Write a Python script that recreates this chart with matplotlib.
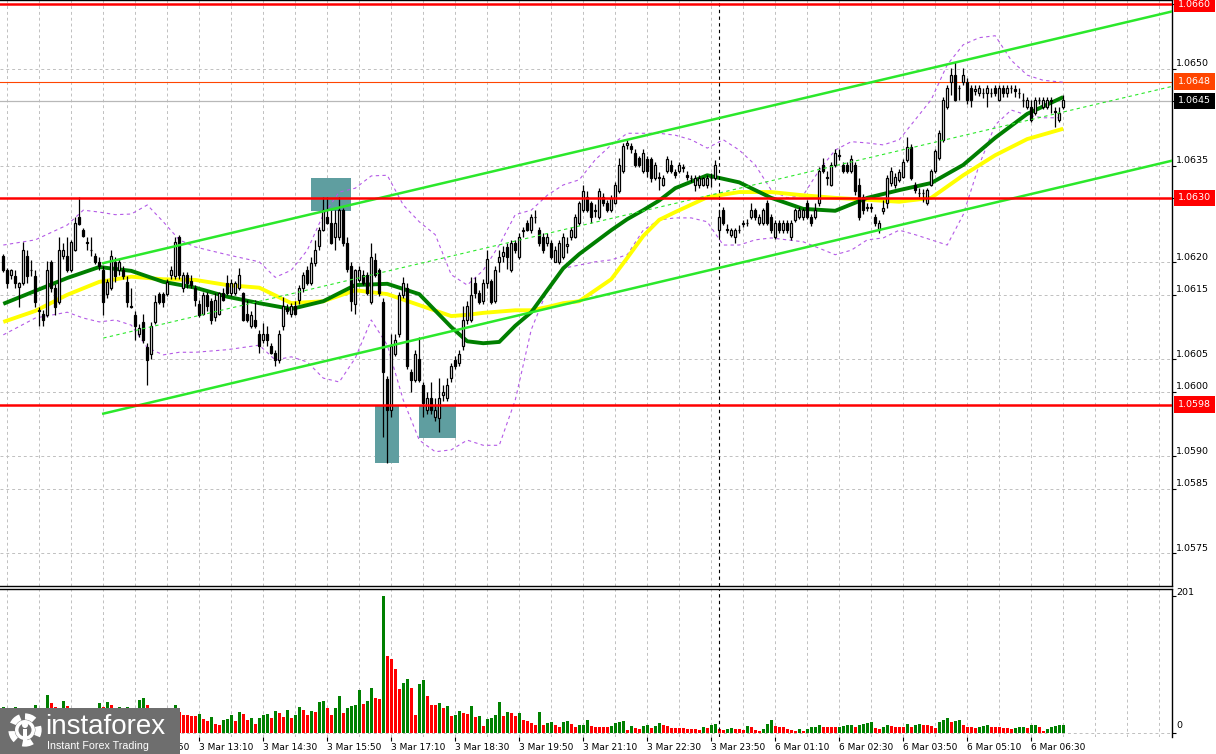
import numpy as np
import matplotlib
matplotlib.use('Agg')
import matplotlib.pyplot as plt
import matplotlib.transforms as mtransforms
from matplotlib.patches import Rectangle, Circle

# prices are stored in pips above 1.0600
BASE = 1.0600
PIP = 0.0001

opens = [21.0, 18.8, 18.0, 17.9, 16.2, 16.8, 21.0, 18.9, 17.9, 12.5,
         12.1, 11.9, 20.0, 16.0, 13.9, 21.0, 21.0, 18.9, 22.0, 27.1,
         25.0, 23.1, 22.0, 21.0, 20.0, 18.9, 15.1, 16.0, 20.0, 18.8,
         18.9, 17.0, 13.2, 11.9, 9.0, 10.8, 6.9, 5.9, 10.8, 15.1,
         15.1, 15.1, 18.0, 17.9, 24.0, 16.0, 18.1, 17.2, 16.0, 13.5,
         12.0, 15.0, 14.0, 11.5, 12.1, 15.2, 16.8, 15.2, 15.3, 16.0,
         15.2, 12.1, 10.1, 11.1, 9.0, 8.0, 9.0, 7.0, 6.0, 4.9,
         10.1, 13.0, 12.1, 13.2, 14.2, 16.0, 18.9, 16.8, 19.9, 22.5,
         25.0, 27.1, 26.1, 24.0, 24.0, 28.1, 23.0, 19.5, 13.5, 17.3,
         18.1, 18.1, 13.9, 20.4, 18.9, 13.9, 1.9, -2.8, 5.9, 9.0,
         15.0, 16.0, 3.1, 1.8, 5.0, 1.0, -2.8, -1.0, -3.9, -4.1,
         -0.5, -1.0, 2.1, 4.9, 4.5, 7.0, 11.1, 11.1, 16.8, 15.2,
         14.0, 16.8, 17.1, 14.0, 20.1, 21.0, 22.4, 18.8, 23.0, 20.9,
         24.8, 26.1, 25.0, 27.0, 25.0, 24.0, 23.0, 23.0, 20.1, 20.1,
         20.9, 22.5, 24.0, 24.0, 26.1, 28.1, 30.2, 29.2, 28.0, 27.1,
         30.2, 29.2, 28.1, 29.2, 31.0, 34.1, 38.2, 38.0, 37.0, 36.1,
         34.1, 36.0, 36.0, 33.0, 33.2, 32.0, 34.1, 35.1, 34.0, 34.1,
         34.6, 33.5, 33.0, 32.0, 32.0, 32.0, 32.0, 33.0, 33.0, 25.0,
         28.1, 25.2, 24.3, 24.0, 25.0, 26.0, 26.1, 27.1, 28.1, 26.1,
         26.1, 29.2, 27.1, 24.0, 26.1, 25.0, 26.1, 24.0, 26.5, 27.1,
         27.1, 29.2, 27.1, 27.1, 29.2, 35.1, 33.2, 32.0, 35.1, 36.5,
         35.1, 35.1, 34.1, 35.1, 32.0, 30.2, 28.5, 28.6, 27.1, 25.0,
         28.0, 29.2, 32.3, 32.0, 32.8, 33.3, 35.9, 37.9, 32.0, 30.8,
         30.7, 29.2, 32.0, 34.1, 36.1, 39.0, 44.1, 48.0, 49.0, 47.0,
         48.0, 48.0, 47.0, 46.5, 46.2, 46.2, 46.2, 46.2, 47.0, 45.2,
         47.0, 46.2, 47.0, 46.8, 46.2, 45.2, 44.1, 44.1, 43.1, 45.2,
         44.1, 44.1, 45.2, 43.5, 42.1, 44.1]

highs = [21.3, 19.2, 19.0, 18.9, 17.0, 23.2, 22.0, 20.4, 18.8, 13.1,
         12.6, 20.3, 20.4, 16.6, 24.0, 23.0, 24.0, 23.5, 27.1, 30.2,
         25.3, 24.0, 24.0, 21.5, 20.9, 19.4, 17.5, 22.0, 20.9, 20.5,
         19.5, 17.9, 16.0, 12.5, 10.5, 12.1, 7.5, 10.8, 15.0, 15.5,
         15.5, 17.5, 19.5, 24.0, 24.3, 18.5, 18.5, 18.0, 16.5, 14.2,
         15.5, 15.5, 14.5, 15.2, 15.5, 16.0, 18.1, 17.5, 17.2, 19.1,
         15.5, 14.2, 12.5, 14.2, 9.5, 10.6, 10.1, 7.5, 6.5, 9.5,
         14.7, 13.5, 13.8, 14.0, 16.5, 18.5, 19.5, 20.9, 23.5, 25.5,
         30.2, 30.2, 28.1, 28.1, 30.2, 28.5, 24.0, 20.0, 19.0, 19.5,
         18.9, 18.5, 23.0, 21.4, 19.2, 14.5, 2.5, 9.0, 9.0, 15.5,
         17.8, 16.8, 3.5, 6.5, 8.5, 1.5, 0.0, 1.5, -1.0, 2.1,
         1.0, 2.1, 4.5, 5.5, 6.5, 13.2, 14.0, 17.8, 17.8, 15.8,
         17.5, 21.9, 17.5, 19.5, 22.0, 22.5, 23.0, 23.5, 23.5, 24.5,
         25.5, 26.5, 27.5, 28.1, 25.5, 24.5, 24.5, 23.5, 22.5, 23.5,
         24.5, 24.0, 25.5, 27.5, 29.5, 32.0, 31.0, 29.5, 29.0, 31.5,
         30.8, 29.6, 30.5, 32.5, 36.1, 38.5, 39.0, 38.5, 37.5, 36.5,
         37.5, 36.5, 36.4, 35.5, 34.0, 33.5, 36.5, 35.8, 34.5, 35.5,
         35.2, 34.2, 33.5, 33.5, 33.5, 33.3, 33.5, 33.8, 35.8, 28.1,
         28.6, 26.0, 25.3, 25.3, 25.8, 26.6, 26.8, 29.2, 28.5, 27.5,
         28.5, 29.6, 27.5, 26.5, 26.5, 26.5, 26.5, 26.5, 28.5, 28.6,
         28.5, 29.6, 27.5, 29.2, 34.8, 36.1, 34.1, 35.5, 37.5, 37.5,
         35.6, 35.5, 36.6, 35.5, 33.0, 30.6, 29.2, 29.2, 27.5, 26.5,
         29.7, 33.5, 34.8, 33.8, 34.5, 36.0, 39.5, 38.3, 32.5, 31.5,
         31.3, 31.6, 34.5, 37.6, 40.5, 45.6, 47.5, 50.1, 51.1, 47.5,
         50.1, 48.5, 47.5, 47.5, 47.5, 47.0, 47.5, 47.0, 47.5, 47.5,
         47.5, 47.5, 47.5, 47.4, 47.0, 46.2, 45.6, 45.2, 45.6, 45.6,
         45.6, 45.6, 45.6, 44.0, 44.0, 46.0]

lows = [18.5, 16.0, 17.5, 16.0, 13.1, 16.5, 16.8, 17.9, 13.1, 10.1,
        10.1, 11.5, 15.5, 11.9, 13.5, 20.5, 18.5, 18.5, 21.8, 25.8,
        24.0, 22.0, 21.0, 19.8, 18.8, 11.9, 14.5, 15.8, 17.0, 18.0,
        17.5, 13.1, 13.0, 8.0, 8.5, 7.5, 1.0, 5.0, 10.5, 13.5,
        13.1, 14.8, 17.5, 17.5, 17.5, 15.5, 16.0, 16.0, 13.2, 11.5,
        11.8, 12.5, 10.5, 11.0, 11.8, 14.0, 15.0, 14.8, 15.0, 15.8,
        11.0, 10.8, 9.8, 9.8, 6.0, 7.5, 7.0, 5.8, 3.9, 4.5,
        9.5, 12.0, 11.5, 11.8, 13.5, 15.5, 16.5, 16.5, 19.5, 22.0,
        24.8, 26.0, 22.8, 21.9, 23.5, 22.5, 18.5, 12.5, 12.1, 17.0,
        16.5, 15.0, 13.5, 17.8, 14.8, -7.0, -11.1, -3.9, 5.5, 8.5,
        14.5, 3.5, 0.0, 1.5, 1.5, -3.9, -3.5, -3.5, -4.5, -6.2,
        -1.5, -1.5, 1.5, 3.5, 4.0, 6.5, 10.5, 10.8, 14.5, 13.5,
        13.5, 16.0, 13.5, 13.8, 18.5, 20.0, 19.0, 18.5, 21.5, 20.5,
        24.0, 24.8, 24.5, 26.1, 22.5, 21.5, 22.5, 20.5, 20.0, 19.8,
        20.5, 21.5, 23.5, 23.8, 25.8, 27.8, 27.8, 26.1, 27.0, 26.8,
        28.8, 27.8, 27.8, 29.0, 30.8, 33.8, 37.5, 37.0, 34.8, 34.8,
        33.8, 33.3, 32.5, 32.8, 31.2, 31.8, 33.8, 33.8, 33.0, 33.8,
        34.0, 32.8, 32.5, 31.0, 31.5, 31.8, 31.5, 31.7, 32.8, 24.0,
        25.8, 24.5, 24.0, 23.0, 24.6, 25.5, 25.6, 26.8, 26.6, 25.8,
        25.8, 25.8, 24.6, 23.6, 24.6, 24.6, 24.6, 23.5, 26.2, 26.8,
        26.6, 26.8, 25.6, 26.8, 28.8, 33.8, 32.0, 31.8, 34.8, 35.8,
        33.8, 33.8, 33.8, 30.5, 26.6, 27.5, 28.0, 27.8, 25.6, 24.6,
        27.5, 28.5, 31.8, 31.5, 32.5, 33.0, 35.5, 32.8, 30.8, 30.2,
        29.4, 28.9, 31.8, 33.8, 35.8, 38.6, 43.8, 46.0, 45.0, 45.2,
        47.5, 44.5, 44.1, 46.0, 45.8, 45.5, 44.1, 45.6, 45.8, 45.0,
        45.6, 45.6, 46.2, 45.6, 45.4, 44.1, 43.8, 41.8, 42.8, 44.6,
        43.8, 43.8, 43.1, 41.0, 41.8, 43.8]

closes = [18.8, 16.8, 18.9, 16.8, 16.8, 22.0, 17.9, 18.9, 13.9, 12.6,
          11.1, 18.8, 16.0, 13.1, 22.0, 22.0, 18.9, 23.1, 26.1, 26.0,
          24.1, 23.0, 22.0, 20.0, 19.4, 13.9, 17.0, 21.0, 17.9, 20.0,
          17.9, 13.9, 13.1, 10.1, 9.8, 8.0, 4.9, 10.1, 13.9, 13.9,
          13.9, 17.0, 18.9, 23.1, 18.1, 18.1, 16.8, 16.5, 14.2, 11.9,
          15.0, 13.2, 11.1, 14.2, 15.2, 14.2, 15.2, 16.8, 16.8, 18.1,
          11.1, 11.1, 11.9, 10.1, 7.0, 9.0, 8.0, 6.0, 4.9, 9.0,
          13.2, 12.5, 13.2, 12.1, 16.0, 18.1, 16.8, 19.9, 21.9, 25.0,
          28.1, 26.1, 23.0, 26.1, 28.1, 23.0, 19.0, 14.0, 18.8, 18.9,
          16.8, 15.2, 20.9, 18.1, 15.2, 3.1, -2.8, 7.0, 8.0, 15.0,
          16.8, 3.9, 1.8, 5.9, 1.8, -1.8, -1.0, -2.8, -2.8, -1.0,
          0.0, 1.0, 3.9, 3.9, 5.9, 11.1, 13.2, 15.0, 15.2, 13.9,
          16.8, 20.5, 13.9, 18.8, 20.9, 21.6, 20.9, 23.0, 21.9, 24.0,
          25.0, 25.0, 27.1, 27.0, 23.0, 21.9, 24.0, 20.9, 21.9, 23.0,
          24.0, 22.8, 25.0, 27.1, 29.2, 31.0, 28.1, 27.1, 28.1, 31.0,
          29.2, 28.1, 30.0, 32.0, 35.1, 38.0, 38.5, 37.5, 35.1, 35.1,
          37.0, 34.1, 33.0, 35.1, 33.0, 33.0, 36.0, 34.1, 33.5, 35.1,
          34.8, 33.3, 33.0, 33.0, 33.0, 33.0, 33.0, 33.0, 35.1, 27.1,
          26.1, 25.0, 25.0, 25.0, 25.0, 26.1, 26.1, 28.1, 27.1, 27.1,
          28.1, 26.1, 25.0, 26.1, 25.0, 26.1, 25.0, 26.1, 28.1, 28.1,
          28.1, 27.1, 26.1, 28.1, 34.1, 34.1, 33.0, 35.1, 37.0, 36.6,
          34.1, 34.1, 36.0, 31.0, 27.1, 28.1, 28.6, 28.4, 26.1, 26.1,
          28.4, 33.0, 34.1, 33.2, 34.0, 35.6, 37.9, 33.0, 31.2, 30.7,
          30.7, 31.2, 34.1, 37.2, 40.0, 45.2, 47.0, 49.0, 45.2, 47.0,
          49.0, 45.2, 45.2, 46.8, 47.0, 46.2, 47.0, 46.2, 46.2, 47.0,
          46.2, 47.0, 47.0, 46.6, 46.2, 45.2, 45.2, 42.1, 45.2, 45.2,
          45.2, 45.2, 45.0, 43.3, 43.1, 45.2]

volumes = [37, 30, 28, 37, 30, 33, 28, 26, 41, 34,
           30, 55, 44, 37, 32, 47, 39, 33, 35, 30,
           32, 28, 30, 27, 44, 37, 45, 41, 34, 37,
           33, 37, 31, 33, 48, 51, 41, 35, 32, 28,
           31, 27, 30, 41, 30, 26, 26, 24, 24, 28,
           20, 17, 23, 13, 12, 19, 20, 26, 17, 30,
           28, 19, 22, 13, 22, 26, 27, 22, 32, 29,
           23, 33, 22, 26, 37, 33, 26, 32, 30, 45,
           46, 36, 26, 36, 54, 29, 36, 39, 41, 63,
           42, 47, 66, 51, 50, 201, 112, 108, 93, 64,
           73, 79, 66, 26, 71, 77, 54, 41, 40, 44,
           36, 39, 24, 26, 32, 29, 28, 39, 23, 24,
           10, 20, 22, 26, 45, 24, 30, 29, 24, 29,
           19, 17, 14, 11, 30, 11, 14, 15, 11, 8,
           16, 17, 13, 8, 11, 12, 19, 10, 9, 9,
           8, 8, 10, 14, 16, 17, 4, 10, 7, 6,
           10, 11, 7, 10, 14, 11, 10, 7, 7, 7,
           7, 6, 6, 5, 4, 9, 7, 12, 13, 6,
           4, 6, 7, 6, 5, 4, 10, 8, 4, 3,
           6, 13, 19, 10, 9, 8, 6, 4, 2, 6,
           3, 5, 8, 9, 11, 8, 8, 8, 8, 9,
           10, 11, 12, 8, 12, 13, 14, 15, 7, 6,
           8, 11, 10, 9, 9, 9, 13, 9, 12, 13,
           12, 11, 10, 7, 15, 19, 21, 15, 17, 19,
           12, 8, 8, 7, 9, 10, 11, 9, 9, 8,
           7, 7, 6, 7, 8, 9, 7, 11, 12, 8,
           2, 6, 8, 10, 11, 12]

# moving averages (bar index, pips)
ma_idx = [0, 8, 16, 24, 32, 40, 48, 56, 64, 72,
          80, 88, 96, 104, 112, 116, 120, 124, 128, 132,
          136, 140, 144, 152, 156, 160, 164, 168, 176, 184,
          192, 200, 208, 216, 224, 232, 240, 248, 256, 265]
ma_fast = [13.6, 15.6, 17.6, 19.3, 18.7, 17.0, 16.1, 14.7, 13.7, 12.8,
           14.0, 16.5, 16.7, 15.1, 10.0, 7.8, 7.5, 7.7, 10.2, 12.3,
           15.7, 19.1, 21.3, 25.0, 26.7, 28.1, 29.6, 31.5, 33.5, 32.4,
           30.0, 28.3, 28.0, 30.0, 31.2, 32.3, 35.1, 39.3, 43.0, 45.6]
ma_slow = [10.8, 12.5, 15.0, 17.0, 17.8, 17.4, 17.3, 16.5, 16.1, 13.7,
           14.0, 15.7, 15.1, 13.4, 11.7, 11.9, 12.2, 12.4, 12.6, 12.6,
           13.1, 13.7, 14.0, 17.4, 20.7, 24.1, 26.6, 27.8, 30.1, 30.9,
           30.9, 30.4, 30.0, 29.7, 29.4, 30.0, 33.5, 36.6, 39.1, 40.7]

# bollinger envelope
bb_idx = [0, 8, 16, 20, 24, 28, 32, 36, 40, 44, 48,
          56, 64, 68, 72, 76, 80, 84, 88, 92, 96,
          100, 104, 108, 112, 116, 120, 124, 128, 132, 136,
          140, 144, 148, 152, 156, 160, 164, 168, 172, 176,
          180, 184, 188, 192, 196, 200, 204, 208, 212, 216,
          220, 224, 228, 232, 236, 240, 244, 248, 252, 256,
          260, 265]
bb_upper = [22.7, 23.5, 25.8, 28.1, 27.8, 27.4, 27.5, 28.9, 26.3, 23.5, 22.4,
            21.2, 20.1, 17.7, 18.8, 21.9, 27.4, 30.9, 31.5, 33.4, 33.5,
            28.9, 26.3, 24.3, 18.1, 16.5, 18.8, 22.7, 27.4, 28.1, 30.4,
            32.0, 32.8, 35.9, 38.2, 40.0, 40.0, 40.0, 39.7, 39.0, 37.7,
            39.0, 37.4, 35.1, 31.2, 30.0, 30.4, 34.3, 37.4, 38.7, 38.5,
            38.2, 39.0, 42.1, 45.2, 50.6, 53.7, 54.8, 55.1, 51.3, 49.0,
            48.2, 47.9]
bb_lower = [8.8, 11.4, 12.3, 11.4, 10.8, 11.1, 10.3, 6.8, 5.7, 6.1, 6.1,
            6.5, 7.2, 4.9, 5.4, 4.6, 2.1, 1.5, 5.2, 11.1, 7.2,
            -1.3, -7.5, -9.3, -9.0, -7.5, -8.3, -8.3, -1.3, 9.6, 15.7,
            19.1, 19.6, 20.1, 20.4, 21.2, 25.0, 26.6, 26.9, 26.9, 26.3,
            22.7, 22.7, 23.5, 23.8, 23.5, 23.2, 22.2, 21.2, 21.9, 23.5,
            23.8, 25.0, 24.3, 23.5, 22.7, 27.4, 35.1, 41.3, 43.6, 42.8,
            42.4, 42.4]

# trend channel (bar index, pips)
chan_idx = [25, 292.5]
chan_upper = [19.9, 58.9]
chan_mid = [8.3, 47.3]
chan_lower = [-3.4, 35.8]

red_levels = [1.0660, 1.0630, 1.0598]
ask_level = 1.0648
bid_level = 1.0645
grid_prices = [1.0660, 1.0650, 1.0645, 1.0635, 1.0630, 1.0620, 1.0615,
               1.0605, 1.0600, 1.0590, 1.0585, 1.0575]

# highlighted zones: start bar, end bar, low pips, high pips
zone_start = [76.9, 92.9, 103.9]
zone_end = [86.9, 98.9, 113.2]
zone_low = [28.0, -11.0, -7.2]
zone_high = [33.1, -2.1, -2.1]

session_break = 179
time_labels = ['3 Mar 09:10', '3 Mar 10:30', '3 Mar 11:50', '3 Mar 13:10',
               '3 Mar 14:30', '3 Mar 15:50', '3 Mar 17:10', '3 Mar 18:30',
               '3 Mar 19:50', '3 Mar 21:10', '3 Mar 22:30', '3 Mar 23:50',
               '6 Mar 01:10', '6 Mar 02:30', '6 Mar 03:50', '6 Mar 05:10',
               '6 Mar 06:30']


def to_price(p):
    return BASE + np.asarray(p, dtype=float) * PIP


W, H = 1216, 754
LOGO_W, LOGO_H = 180, 46
fig = plt.figure(figsize=(W / 100, H / 100), dpi=100)
fig.patch.set_facecolor('white')
ax = fig.add_axes([0, (H - 586) / H, 1172 / W, 586 / H])
axv = fig.add_axes([0, (H - 737) / H, 1172 / W, (737 - 589) / H])

xlim = (-0.825, 292.2)
for a in (ax, axv):
    a.set_xlim(*xlim)
    a.set_facecolor('white')
    a.spines['left'].set_visible(False)
    for s in ('right', 'top', 'bottom'):
        a.spines[s].set_color('black')
        a.spines[s].set_linewidth(1.0)
ax.set_ylim(1.056992, 1.066063)
axv.set_ylim(-6.3, 210.8)
axv.spines['bottom'].set_visible(False)

grid_kw = dict(color='#C0C0C0', lw=0.7, ls=(0, (3, 3)), zorder=0)
for g in np.arange(1, 292, 8):
    ax.axvline(g, **grid_kw)
    axv.axvline(g, **grid_kw)
for p in grid_prices:
    ax.axhline(p, **grid_kw)
axv.axhline(0, **grid_kw)

# zones
for s, e, lo, hi in zip(zone_start, zone_end, zone_low, zone_high):
    ax.add_patch(Rectangle((s, to_price(lo)), e - s, to_price(hi) - to_price(lo),
                           facecolor='#5F9EA0', edgecolor='none', zorder=1))

ax.axhline(bid_level, color='#B8B8B8', lw=0.9, zorder=1.5)
ax.axhline(ask_level, color='#FF4500', lw=0.8, zorder=1.5)

# bollinger + MAs
band_kw = dict(color='#B45AE6', lw=0.8, ls=(0, (3, 3)), zorder=2)
ax.plot(bb_idx, to_price(bb_upper), **band_kw)
ax.plot(bb_idx, to_price(bb_lower), **band_kw)
ax.plot(ma_idx, to_price(ma_slow), color='#FFFF00', lw=2.8, zorder=3,
        solid_capstyle='butt', solid_joinstyle='round')
ax.plot(ma_idx, to_price(ma_fast), color='#007F00', lw=2.8, zorder=3,
        solid_capstyle='butt', solid_joinstyle='round')

# candles
k = np.arange(len(opens))
o, h, l, c = (to_price(v) for v in (opens, highs, lows, closes))
up = c >= o
ax.vlines(k, l, h, color='black', lw=0.9, zorder=4)
ax.bar(k, np.abs(c - o), bottom=np.minimum(o, c), width=0.6,
       color=np.where(up, 'white', 'black'), edgecolor='black',
       linewidth=0.9, zorder=5)

# channel
ax.plot(chan_idx, to_price(chan_upper), color='#2BE82B', lw=1.8, zorder=6)
ax.plot(chan_idx, to_price(chan_lower), color='#2BE82B', lw=1.8, zorder=6)
ax.plot(chan_idx, to_price(chan_mid), color='#2BE82B', lw=0.8,
        ls=(0, (3, 3)), zorder=6)

for p in red_levels:
    ax.axhline(p, color='#FF0000', lw=1.8, zorder=7)

ax.axvline(session_break, color='black', lw=0.8, ls=(0, (3, 3)), zorder=3.5)
axv.axvline(session_break, color='black', lw=0.8, ls=(0, (3, 3)), zorder=3.5)

# right price scale
ax.set_xticks([])
ax.yaxis.tick_right()
ax.set_yticks(grid_prices)
ax.set_yticklabels([])
ax.tick_params(axis='y', direction='out', length=3, width=0.8, color='black')
boxed = {1.0660: '#FF0000', 1.0630: '#FF0000', 1.0598: '#FF0000',
         ask_level: '#FF4500', bid_level: '#000000'}
lab_tr = mtransforms.offset_copy(ax.get_yaxis_transform(), fig=fig,
                                 x=4, y=5, units='dots')
box_tr = mtransforms.offset_copy(ax.get_yaxis_transform(), fig=fig,
                                 x=6, y=0, units='dots')
for p in grid_prices:
    if p in boxed:
        continue
    ax.text(1.0, p, f'{p:.4f}', transform=lab_tr, ha='left', va='center',
            fontsize=6.8, color='black', clip_on=False)
for p, col in boxed.items():
    ax.text(1.0, p, f'{p:.4f}', transform=box_tr, ha='left', va='center',
            fontsize=6.8, color='white', clip_on=False, zorder=10,
            bbox=dict(boxstyle='square,pad=0.4', fc=col, ec='none'))

# volumes
vol = np.array(volumes)
rising = np.r_[True, vol[1:] > vol[:-1]]
axv.bar(k, vol, width=0.72, color=np.where(rising, '#008000', '#FF0000'),
        linewidth=0, zorder=2)
axv.yaxis.tick_right()
axv.set_yticks([0, vol.max()])
axv.set_yticklabels([])
axv.tick_params(axis='y', direction='out', length=3, width=0.8)
vtr = mtransforms.offset_copy(axv.get_yaxis_transform(), fig=fig,
                              x=4, y=3, units='dots')
axv.text(1.0, vol.max(), str(vol.max()), transform=vtr, ha='left',
         va='center', fontsize=6.8, clip_on=False)
axv.text(1.0, 0, '0', transform=vtr, ha='left', va='bottom',
         fontsize=6.8, clip_on=False)

# time scale; labels that sit fully under the logo are left blank
label_k = 1 + 16 * np.arange(len(time_labels))
label_px = 3.3 + 4 * label_k
shown = [t if x > LOGO_W - 60 else '' for t, x in zip(time_labels, label_px)]
axv.set_xticks(label_k)
axv.set_xticklabels(shown, ha='left', fontsize=6.5)
axv.tick_params(axis='x', direction='out', length=3, width=0.8, pad=1)
clip_box = mtransforms.Bbox.from_extents(LOGO_W, 0, W, H)
for lbl in axv.get_xticklabels():
    lbl.set_clip_box(clip_box)
    lbl.set_clip_on(True)

# logo
lax = fig.add_axes([0, 0, LOGO_W / W, LOGO_H / H])
lax.set_xlim(0, LOGO_W)
lax.set_ylim(LOGO_H, 0)
lax.axis('off')
lax.add_patch(Rectangle((0, 0), LOGO_W, LOGO_H, facecolor='#6E6E6E',
                        edgecolor='none'))
lax.add_patch(Circle((25, 22), 13.5, fill=False, ec='white', lw=4.5,
                     ls=(0, (1.6, 1.2))))
lax.add_patch(Circle((25, 22), 10, fc='white', ec='none'))
lax.add_patch(Circle((25, 22), 6.5, fc='#6E6E6E', ec='none'))
lax.add_patch(Circle((25, 17), 3, fc='white', ec='none'))
lax.add_patch(Rectangle((23, 21), 4, 12, fc='white', ec='none'))
lax.text(45, 19, 'instaforex', color='white', fontsize=20,
         family='Liberation Sans', va='center', ha='left')
lax.text(47, 38, 'Instant Forex Trading', color='white', fontsize=7.7,
         family='Liberation Sans', va='center', ha='left')

fig.savefig('out.png', dpi=100)
